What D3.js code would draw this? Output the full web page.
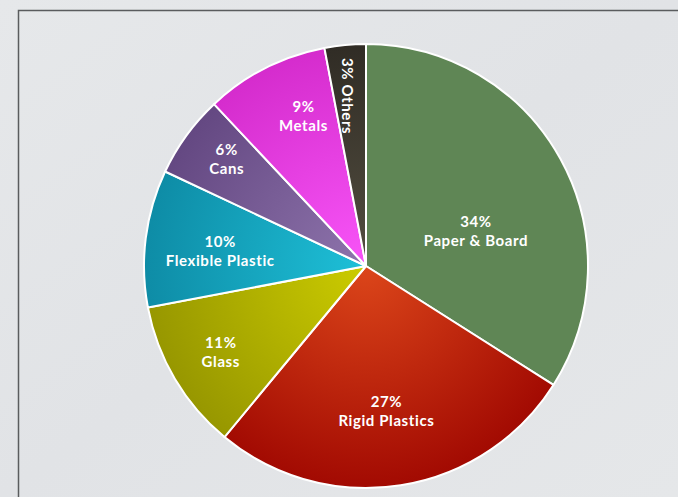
<!DOCTYPE html>
<html><head><meta charset="utf-8">
<script src="https://cdn.jsdelivr.net/npm/d3@7"></script>
<style>
html,body{margin:0;padding:0;background:#e4e6e8;}
svg{display:block;}
</style></head>
<body>
<svg id="chart" width="678" height="497"></svg>
<script>
const categories = ["Paper & Board","Rigid Plastics","Glass","Flexible Plastic","Cans","Metals","Others"];
const values = [34,27,11,10,6,9,3];
const innerColors = ["#5f8655","#dc461a","#cccc00","#1ec0d8","#8e74ac","#f855f8","#534e40"];
const outerColors = ["#5f8655","#a20a02","#979700","#0e8ca6","#644882","#d52ccd","#302c25"];

const W = 678, H = 497;
const cx = 366, cy = 266, R = 222;
const svg = d3.select("#chart");

// background
const defs = svg.append("defs");
const bg = defs.append("linearGradient").attr("id","bg").attr("x1","0").attr("y1","0").attr("x2","1").attr("y2","1");
bg.append("stop").attr("offset","0").attr("stop-color","#e6e8ea");
bg.append("stop").attr("offset","0.5").attr("stop-color","#e1e3e6");
bg.append("stop").attr("offset","1").attr("stop-color","#e5e7e9");
svg.append("rect").attr("width",W).attr("height",H).attr("fill","url(#bg)");

// frame
svg.append("path").attr("d",`M18.5,${H} L18.5,10.5 L${W},10.5`).attr("fill","none").attr("stroke","#5a5c5e").attr("stroke-width",1.5);

// gradients (in the pie group's coordinates, centred on the pie)
categories.forEach((c,i)=>{
  const g = defs.append("radialGradient").attr("id","g"+i)
    .attr("gradientUnits","userSpaceOnUse").attr("cx",0).attr("cy",0).attr("r",R);
  g.append("stop").attr("offset","0").attr("stop-color",innerColors[i]);
  g.append("stop").attr("offset","1").attr("stop-color",outerColors[i]);
});

const pie = d3.pie().sort(null).value(d=>d.v);
const data = categories.map((c,i)=>({c, v:values[i], i}));
const arcs = pie(data);
const arc = d3.arc().innerRadius(0).outerRadius(R);

const gp = svg.append("g").attr("transform",`translate(${cx},${cy})`);
gp.selectAll("path").data(arcs).join("path")
  .attr("d",arc)
  .attr("fill",d=>`url(#g${d.data.i})`)
  .attr("stroke","#ffffff").attr("stroke-width",2).attr("stroke-linejoin","round");

// label placement: radius fraction and angular nudge (degrees) per slice
const labelLayout = {
  "Paper & Board":[0.52,11],
  "Rigid Plastics":[0.66,1],
  "Glass":[0.76,0],
  "Flexible Plastic":[0.66,-1.5],
  "Cans":[0.79,1.4],
  "Metals":[0.733,4.4],
  "Others":[0.77,-1]
};
const font = "Lato, 'Open Sans', sans-serif";
arcs.forEach(d=>{
  const [rf, da] = labelLayout[d.data.c];
  const a = (d.startAngle + d.endAngle)/2 + da*Math.PI/180;
  const x = Math.sin(a)*R*rf, y = -Math.cos(a)*R*rf;
  const pct = d.data.v + "%";
  if (d.data.c === "Others") {
    gp.append("text").attr("transform",`translate(${x},${y}) rotate(90)`)
      .attr("text-anchor","middle").attr("dy","0.35em")
      .attr("font-family",font).attr("font-weight","bold").attr("font-size",15)
      .attr("letter-spacing",0.6)
      .attr("fill","#fff").text(pct + " " + d.data.c);
  } else {
    const t = gp.append("text").attr("text-anchor","middle")
      .attr("font-family",font).attr("font-weight","bold").attr("font-size",15)
      .attr("letter-spacing",0.6).attr("fill","#fff");
    t.append("tspan").attr("x",x).attr("y",y-4).text(pct);
    t.append("tspan").attr("x",x).attr("y",y+15).text(d.data.c);
  }
});
</script>
</body></html>
